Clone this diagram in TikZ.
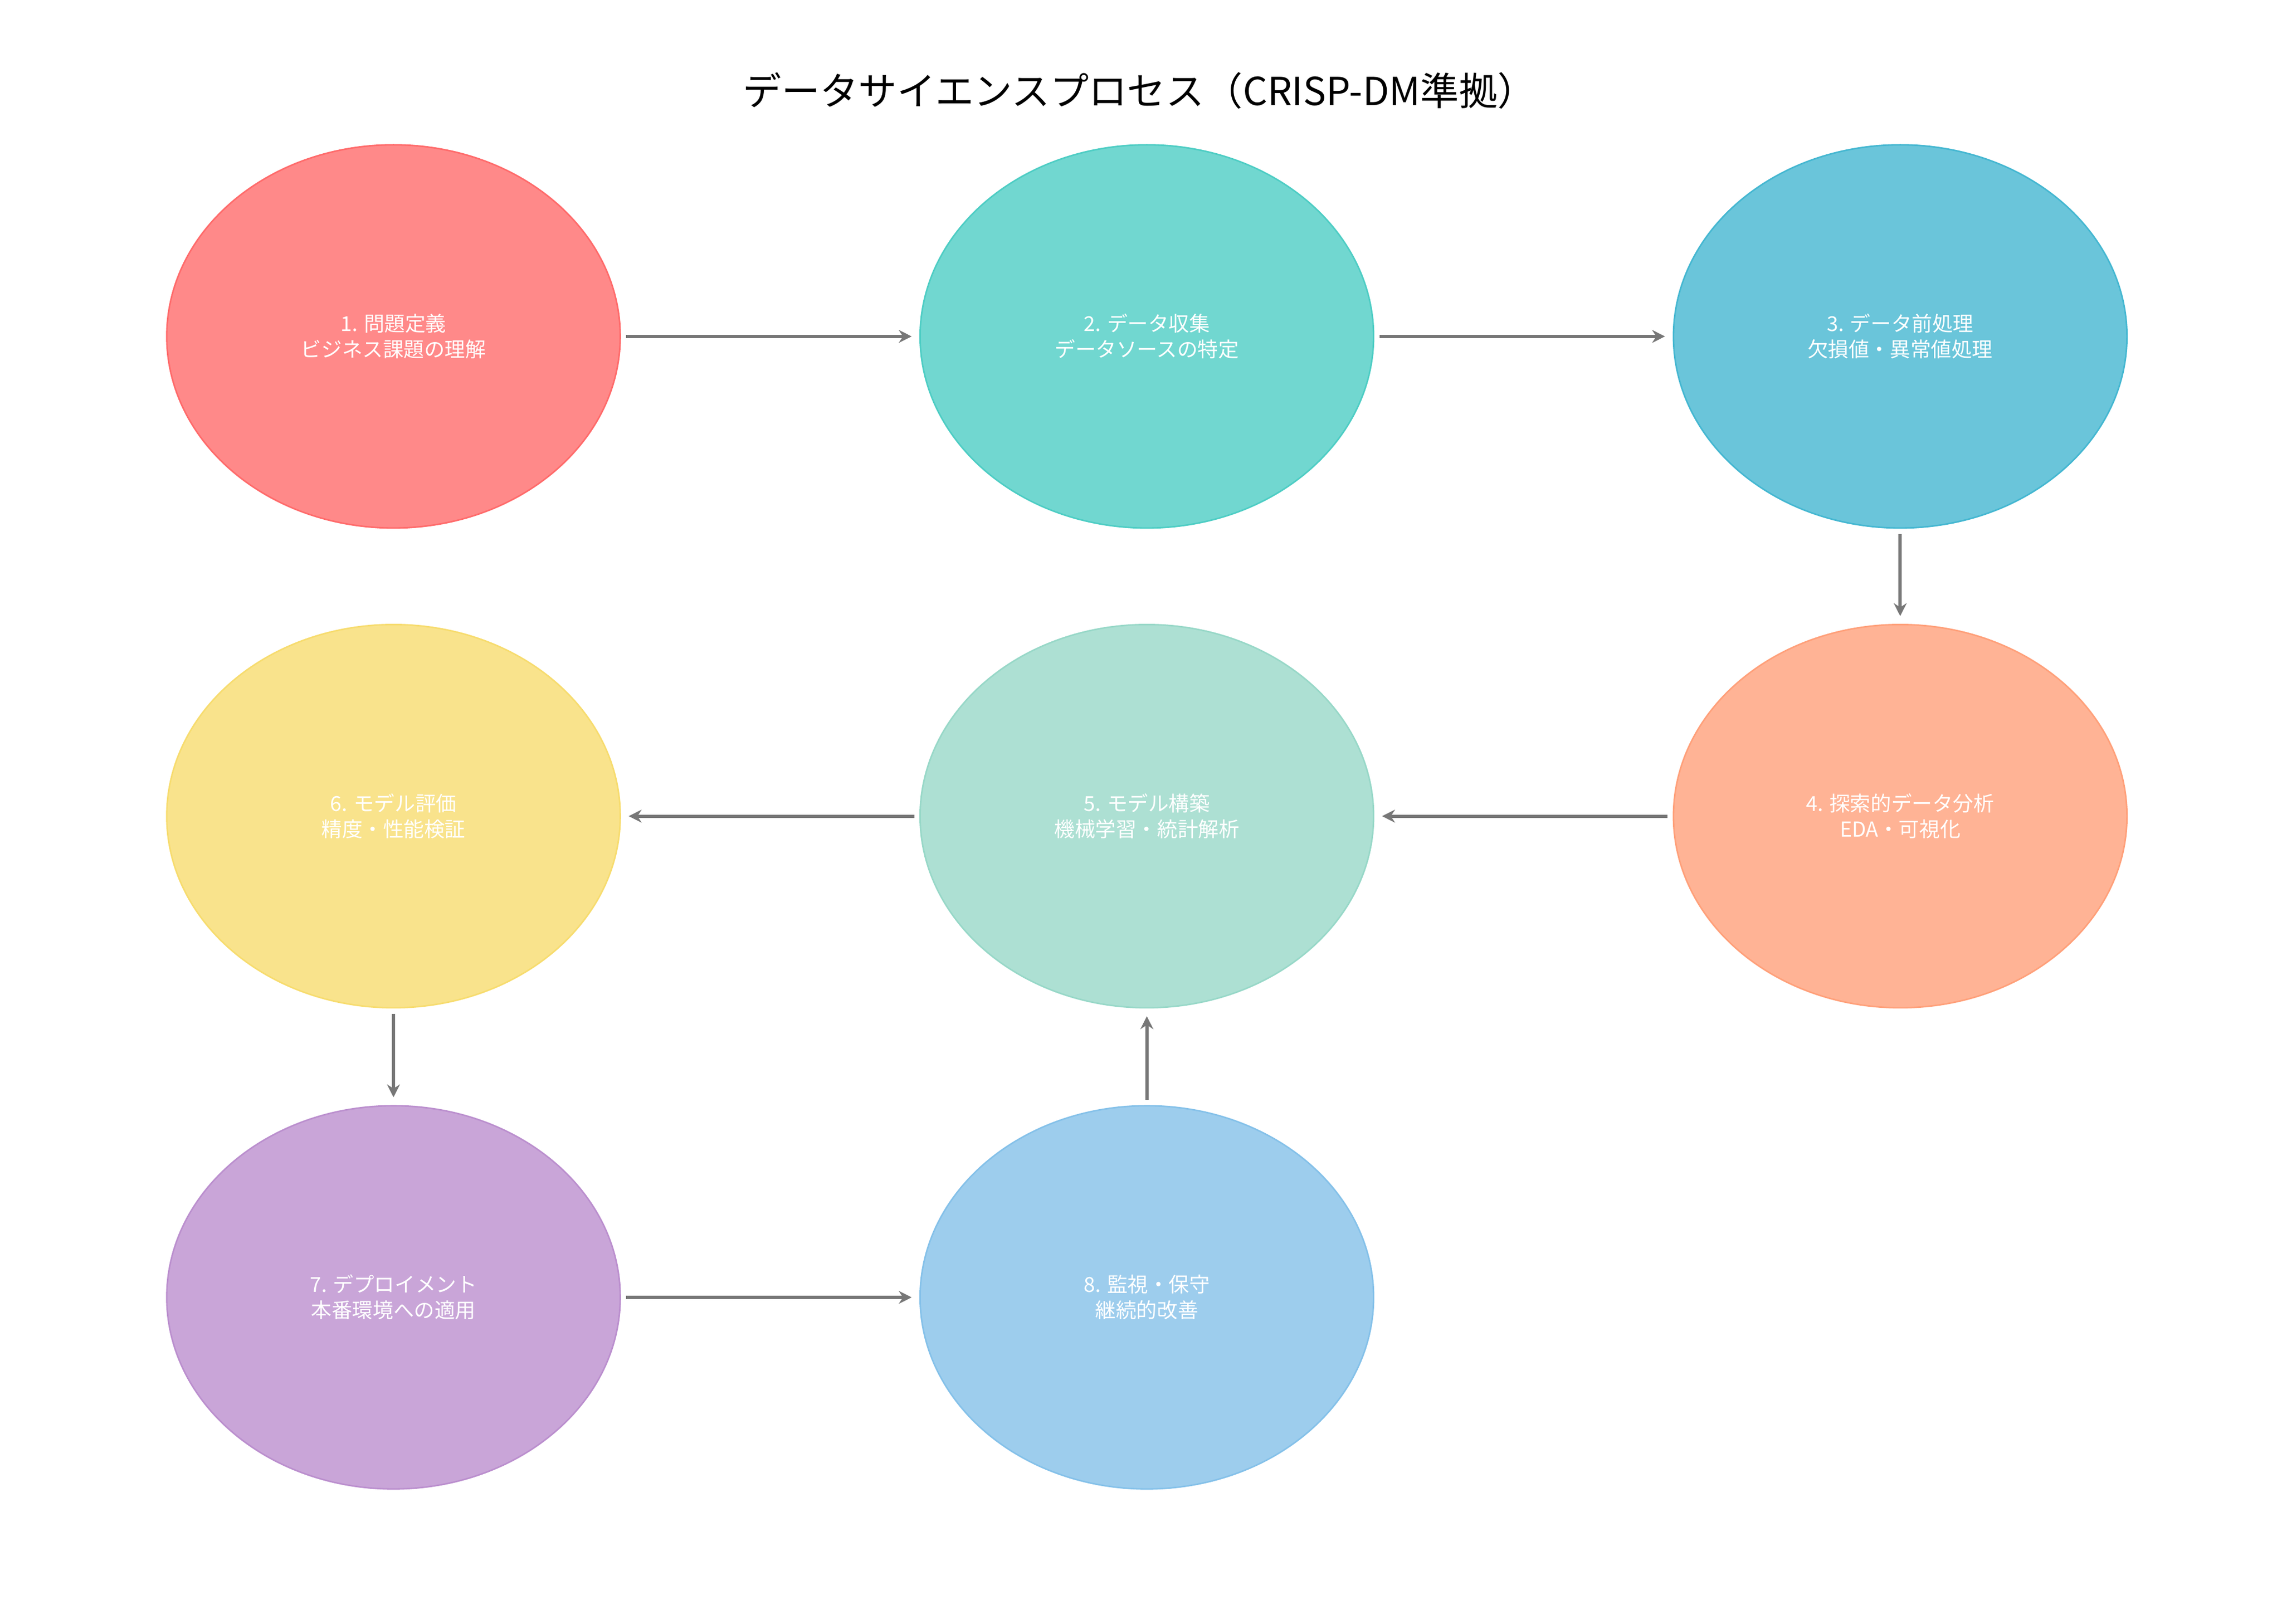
\documentclass[tikz,border=0pt]{standalone}
\usepackage{fontspec}
\setmainfont{Noto Sans CJK JP}
\usetikzlibrary{shapes.geometric,arrows.meta}
\definecolor{c1}{HTML}{FF6B6B}\definecolor{c2}{HTML}{4ECDC4}\definecolor{c3}{HTML}{45B7D1}\definecolor{c4}{HTML}{FFA07A}
\definecolor{c5}{HTML}{98D8C8}\definecolor{c6}{HTML}{F7DC6F}\definecolor{c7}{HTML}{BB8FCE}\definecolor{c8}{HTML}{85C1E9}
\definecolor{ag}{HTML}{777777}
\tikzset{
 phase/.style={ellipse,minimum width=310*0.02cm,minimum height=262*0.02cm,draw=#1,fill=#1,fill opacity=0.8,text opacity=1,text=white,line width=0.6pt,font=\fontsize{8}{10}\selectfont,align=center,inner sep=0pt},
 conn/.style={draw=ag,line width=1.3pt,-{Stealth[length=5pt,width=5pt]},shorten >=3pt,shorten <=2pt}
}
\begin{document}
\begin{tikzpicture}[x=0.02cm,y=-0.02cm]
\useasboundingbox (0,0) rectangle (1560,1110);
\node[font=\fontsize{15}{18}\selectfont] (title) at (779,62) {データサイエンスプロセス（CRISP-DM準拠）};
\node[phase=c1] (n1) at (269,230) {1. 問題定義\\ビジネス課題の理解};
\node[phase=c2] (n2) at (784,230) {2. データ収集\\データソースの特定};
\node[phase=c3] (n3) at (1299,230) {3. データ前処理\\欠損値・異常値処理};
\node[phase=c4] (n4) at (1299,558) {4. 探索的データ分析\\EDA・可視化};
\node[phase=c5] (n5) at (784,558) {5. モデル構築\\機械学習・統計解析};
\node[phase=c6] (n6) at (269,558) {6. モデル評価\\精度・性能検証};
\node[phase=c7] (n7) at (269,887) {7. デプロイメント\\本番環境への適用};
\node[phase=c8] (n8) at (784,887) {8. 監視・保守\\継続的改善};
\draw[conn] (n1) -- (n2);
\draw[conn] (n2) -- (n3);
\draw[conn] (n3) -- (n4);
\draw[conn] (n4) -- (n5);
\draw[conn] (n5) -- (n6);
\draw[conn] (n6) -- (n7);
\draw[conn] (n7) -- (n8);
\draw[conn] (n8) -- (n5);
\end{tikzpicture}
\end{document}
